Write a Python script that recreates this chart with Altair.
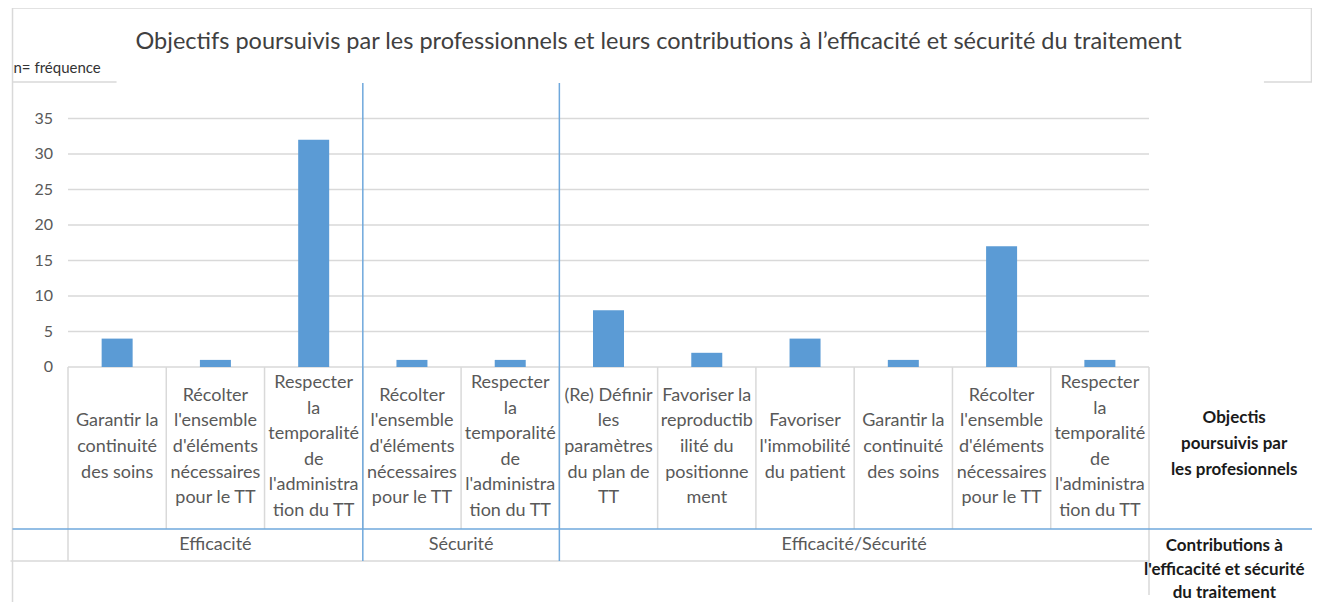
import altair as alt
import pandas as pd

# ---- data ----
objectifs = [
    "Garantir la\ncontinuité\ndes soins",
    "Récolter\nl'ensemble\nd'éléments\nnécessaires\npour le TT",
    "Respecter\nla\ntemporalité\nde\nl'administra\ntion du TT",
    "Récolter\nl'ensemble\nd'éléments\nnécessaires\npour le TT",
    "Respecter\nla\ntemporalité\nde\nl'administra\ntion du TT",
    "(Re) Définir\nles\nparamètres\ndu plan de\nTT",
    "Favoriser la\nreproductib\nilité du\npositionne\nment",
    "Favoriser\nl'immobilité\ndu patient",
    "Garantir la\ncontinuité\ndes soins",
    "Récolter\nl'ensemble\nd'éléments\nnécessaires\npour le TT",
    "Respecter\nla\ntemporalité\nde\nl'administra\ntion du TT",
]
contributions = ["Efficacité"] * 3 + ["Sécurité"] * 2 + ["Efficacité/Sécurité"] * 6
frequences = [4, 1, 32, 1, 1, 8, 2, 4, 1, 17, 1]
y_ticks = [0, 5, 10, 15, 20, 25, 30, 35]

title_text = "Objectifs poursuivis par les professionnels et leurs contributions à l’efficacité et sécurité du traitement"
y_title = "n= fréquence"
level1_title = "Objectis\npoursuivis par\nles profesionnels"
level2_title = "Contributions à\nl'efficacité et sécurité\ndu traitement"

FONT = "Lato"
BAR = "#5B9BD5"
GRID = "#D9D9D9"
BLUE = "#6FA8DC"
TXT = "#595959"
LH = 25.6

W, H = 1091, 284
n = len(frequences)
YMAX = 40


# pixel offsets (from the plot origin) -> scale units, for layout text / lines
def ux(px):
    return px * n / W


def uy(py):
    return (H - py) * YMAX / H


# ---- tables built from the arrays ----
nlines = [s.count("\n") + 1 for s in objectifs]
bars = pd.DataFrame({
    "pos": [i + 0.5 for i in range(n)],
    "objectif": objectifs,
    "ly": [uy(364 - (k - 1) * LH / 2) for k in nlines],
    "n": frequences,
})

groups = []
start = 0
for i in range(1, n + 1):
    if i == n or contributions[i] != contributions[start]:
        groups.append({"g": contributions[start], "mid": (start + i) / 2, "a": start, "gy": uy(462)})
        start = i
groups = pd.DataFrame(groups)

# value axis: gridlines and tick labels
grid = pd.DataFrame({"x1": [0] * len(y_ticks), "x2": [n] * len(y_ticks), "y": y_ticks})
ticklab = pd.DataFrame({"t": [str(v) for v in y_ticks], "x": [ux(-15)] * len(y_ticks), "y": y_ticks})

# vertical lines: cell borders on the category scale + frame
v_gray = pd.DataFrame(
    [{"x": b, "y1": uy(H), "y2": uy(446)} for b in range(1, n)]
    + [{"x": 0, "y1": uy(H), "y2": uy(478)}, {"x": n, "y1": uy(H), "y2": uy(512)},
       {"x": ux(-56), "y1": uy(-75), "y2": uy(530)}, {"x": ux(1255), "y1": uy(-75), "y2": uy(-1)}]
)
v_blue = pd.DataFrame([{"x": b, "y1": uy(0), "y2": uy(478)} for b in groups["a"] if b > 0])
h_gray = pd.DataFrame([
    {"x1": ux(-56), "x2": ux(1257), "y": uy(-75)},
    {"x1": ux(-56), "x2": ux(49), "y": uy(-1)},
    {"x1": ux(1207), "x2": ux(1257), "y": uy(-1)},
    {"x1": ux(-58), "x2": n, "y": uy(478)},
])
h_blue = pd.DataFrame([{"x1": ux(-56), "x2": ux(1257), "y": uy(446)}])

xs = alt.Scale(domain=[0, n], nice=False, zero=False)
ys = alt.Scale(domain=[0, YMAX], nice=False)

bar_layer = alt.Chart(bars).mark_bar(size=31, color=BAR).encode(
    x=alt.X("pos:Q", scale=xs, axis=None),
    y=alt.Y("n:Q", scale=ys, axis=None),
)

cat_text = alt.Chart(bars).mark_text(
    font=FONT, fontSize=18, color=TXT, lineBreak="\n", lineHeight=LH,
    align="center", baseline="middle",
).encode(x=alt.X("pos:Q", scale=xs, axis=None), y=alt.Y("ly:Q", scale=ys, axis=None),
         text="objectif:N")

grp_text = alt.Chart(groups).mark_text(
    font=FONT, fontSize=18, color=TXT, align="center", baseline="middle",
).encode(x=alt.X("mid:Q", scale=xs, axis=None), y=alt.Y("gy:Q", scale=ys, axis=None), text="g:N")


def vlines(df, color):
    return alt.Chart(df).mark_rule(color=color, strokeWidth=1.5).encode(
        x=alt.X("x:Q", scale=xs, axis=None), y=alt.Y("y1:Q", scale=ys, axis=None), y2="y2:Q")


def hlines(df, color):
    return alt.Chart(df).mark_rule(color=color, strokeWidth=1.5).encode(
        x=alt.X("x1:Q", scale=xs, axis=None), x2="x2:Q", y=alt.Y("y:Q", scale=ys, axis=None))


titles = pd.DataFrame([{"t": title_text, "x": ux(596), "y": uy(-41)}])
ytitles = pd.DataFrame([{"t": y_title, "x": ux(-55), "y": uy(-15)}])
lvl1 = pd.DataFrame([{"t": level1_title, "x": ux(1177), "y": uy(335)}])
lvl2 = pd.DataFrame([{"t": level2_title, "x": ux(1167), "y": uy(463)}])


def label_layer(df, **kw):
    return alt.Chart(df).mark_text(font=FONT, lineBreak="\n", baseline="middle", **kw).encode(
        x=alt.X("x:Q", scale=xs, axis=None), y=alt.Y("y:Q", scale=ys, axis=None), text="t:N")


tick_layer = label_layer(ticklab, fontSize=16, color=TXT, align="right")
title_layer = label_layer(titles, fontSize=23.5, color="#404040", align="center")
ytitle_layer = label_layer(ytitles, fontSize=15, color="#333333", align="left")
lvl1_layer = label_layer(lvl1, fontSize=17, fontWeight="bold", color="#1a1a1a",
                         lineHeight=26, align="center")
lvl2_layer = label_layer(lvl2, fontSize=17, fontWeight="bold", color="#1a1a1a",
                         lineHeight=23.5, align="center")

chart = alt.layer(
    hlines(grid, GRID), bar_layer,
    vlines(v_gray, GRID), hlines(h_gray, GRID), vlines(v_blue, BLUE), hlines(h_blue, BLUE),
    tick_layer, cat_text, grp_text, title_layer, ytitle_layer, lvl1_layer, lvl2_layer,
).properties(
    width=W, height=H,
    padding={"left": 55, "top": 75, "right": 158, "bottom": 235},
    autosize=alt.AutoSizeParams(type="none"),
).configure_view(strokeWidth=0)

chart.save("out.html", embed_options={"renderer": "svg", "actions": False})
